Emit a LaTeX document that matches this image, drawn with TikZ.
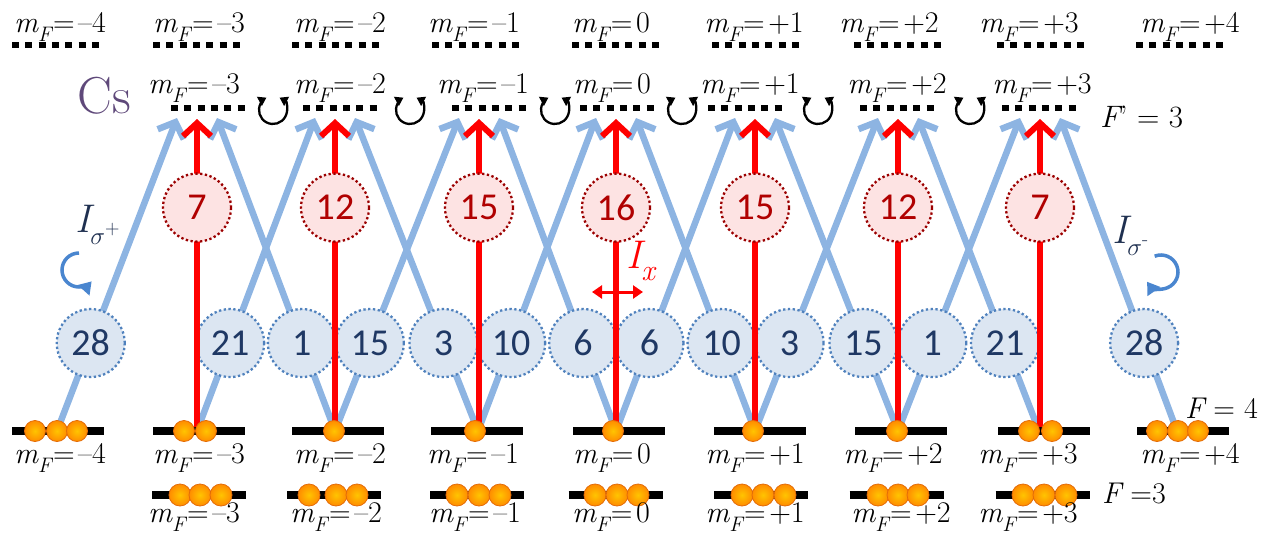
\documentclass[tikz,border=0pt]{standalone}
\usepackage{fontspec}
\newfontfamily\calib{Carlito}
\usetikzlibrary{arrows.meta}
\definecolor{bline}{HTML}{8DB4E2}
\definecolor{bfill}{HTML}{DCE6F2}
\definecolor{bdraw}{HTML}{4F81BD}
\definecolor{btext}{HTML}{1F3864}
\definecolor{rfill}{HTML}{FDE3E3}
\definecolor{rdraw}{HTML}{9B0000}
\definecolor{rtext}{HTML}{B00000}
\definecolor{csc}{HTML}{5F497A}
\definecolor{ballin}{HTML}{FFC400}
\definecolor{ballout}{HTML}{FF8C00}
\definecolor{balle}{HTML}{E36C09}
\definecolor{arcb}{HTML}{4A86CF}
\definecolor{ilab}{HTML}{1F3050}
\newcommand{\mlab}[1]{{\itshape m}\raisebox{-0.3em}{\fontsize{21}{21}\selectfont\itshape F}\hspace{0.05em}=\hspace{0.12em}#1}
\begin{document}
\begin{tikzpicture}[x=1pt,y=-1pt,
  lbl/.style={font=\fontsize{30}{30}\selectfont, inner sep=0pt, anchor=base},
  blueline/.style={draw=bline, line width=6.5pt, -{Straight Barb[length=13pt,width=28pt]}},
  redline/.style={draw=red, line width=6pt, -{Straight Barb[length=13pt,width=28pt]}},
  bcirc/.style={circle, minimum size=68pt, inner sep=0pt, fill=bfill, draw=bdraw, line width=2.3pt, dash pattern=on 2.3pt off 2.5pt, text=btext, font=\calib\fontsize{38}{38}\selectfont},
  rcirc/.style={circle, minimum size=68pt, inner sep=0pt, fill=rfill, draw=rdraw, line width=2.3pt, dash pattern=on 2.3pt off 2.5pt, text=rtext, font=\calib\fontsize{38}{38}\selectfont},
  glevel/.style={line width=7.5pt, black},
  xlevel/.style={line width=6.5pt, black, dash pattern=on 7pt off 6.3pt},
  ball/.style={circle, minimum size=21pt, inner sep=0pt, draw=balle, line width=0.8pt, inner color=ballin, outer color=ballout},
  cyc/.style={line width=2.3pt, black, {Triangle[length=8pt,width=10pt]}-{Triangle[length=8pt,width=10pt]}},
  curl/.style={line width=3.5pt, arcb, -{Triangle[length=12pt,width=15pt]}},
  biglbl/.style={font=\fontsize{40}{40}\selectfont, inner sep=0pt, anchor=base}
]
\useasboundingbox (0,0) rectangle (1267,533);
% coordinates
\foreach \m/\x in {-4/57,-3/197,-2/335,-1/478,0/616,1/755,2/898,3/1039,4/1177}
  \coordinate (g\m) at (\x,431);
\foreach \m/\x in {-3/197,-2/335,-1/479,0/616,1/755,2/898,3/1040}{
  \coordinate (e\m) at (\x,119);
  \coordinate (el\m) at (\x-20,118);
  \coordinate (er\m) at (\x+20,118);
}
% top F'=4 dotted levels and labels
\foreach \x in {57,198,337,477,617,757,899,1042,1181}
  \draw[xlevel] (\x-45,45) -- (\x+45,45);
\foreach \x/\t [count=\i] in {60/\textendash4,199/\textendash3,340/\textendash2,474/\textendash1,611/0,754/+1,889/+2,1029/+3,1190/+4}
  \node[lbl] (top\i) at (\x,32) {\mlab{\t}};
% F'=3 levels
\foreach \x in {208,340,489,617,745,897,1039}
  \draw[xlevel] (\x-37,108) -- (\x+37,108);
\foreach \x/\t [count=\i] in {194/\textendash3,340/\textendash2,483/\textendash1,612/0,750/+1,897/+2,1042/+3}
  \node[lbl] (ex\i) at (\x,93) {\mlab{\t}};
% cyclic arrows
\foreach \x in {273,410,555,682,818,970}
  \draw[cyc] (\x,110) ++(-62:14) arc[start angle=-62, end angle=242, radius=14];
% blue transitions
\foreach \m/\n in {-4/-3,-3/-2,-2/-1,-1/0,0/1,1/2,2/3}
  \draw[blueline] (g\m) -- coordinate[pos=.281] (sp\m) (el\n);
\foreach \m/\n in {-2/-3,-1/-2,0/-1,1/0,2/1,3/2,4/3}
  \draw[blueline] (g\m) -- coordinate[pos=.281] (sm\m) (er\n);
\foreach \m/\v in {-4/28,-3/21,-2/15,-1/10,0/6,1/3,2/1}
  \node[bcirc] (cp\m) at (sp\m) {\v};
\foreach \m/\v in {-2/1,-1/3,0/6,1/10,2/15,3/21,4/28}
  \node[bcirc] (cm\m) at (sm\m) {\v};
% red transitions
\foreach \m/\v in {-3/7,-2/12,-1/15,0/16,1/15,2/12,3/7}
  \draw[redline] (e\m |- g\m) -- node[rcirc, pos=.716] (rc\m) {\v} (e\m);
% ground F=4
\foreach \x in {58,199,338,477,619,760,901,1044,1183}
  \draw[glevel] (\x-46,431) -- (\x+46,431);
\foreach \x in {35,57,77,184,206,334,475,613,753,897,1029,1052,1157,1178,1198}
  \node[ball] at (\x,431) {};
\foreach \x/\t [count=\i] in {60/\textendash4,199/\textendash3,340/\textendash2,473/\textendash1,612/0,755/+1,893/+2,1028/+3,1190/+4}
  \node[lbl] (gl\i) at (\x,463) {\mlab{\t}};
% ground F=3
\foreach \x in {199,334,477,615.5,761,896.5,1042.5}
  \draw[glevel] (\x-47,495) -- (\x+47,495);
\foreach \x in {180,200,221,309,336,357,457,479,500,595,617,638,742,763,785,878,898,918,1023,1044,1066}
  \node[ball, minimum size=22pt] at (\x,495) {};
\foreach \x/\t [count=\i] in {194/\textendash3,336/\textendash2,475/\textendash1,611/0,755/+1,901/+2,1028/+3}
  \node[lbl] (fl\i) at (\x,522) {\mlab{\t}};
% labels
\node[font=\fontsize{52}{52}\selectfont, text=csc, inner sep=0pt, anchor=base] (cs) at (104,113) {Cs};
\node[font=\fontsize{31}{31}\selectfont, inner sep=0pt, anchor=base west] (fp3) at (1100,127) {{\itshape F}’ = 3};
\node[font=\fontsize{30}{30}\selectfont, inner sep=0pt, anchor=base west] (f4) at (1185,418) {{\itshape F} = 4};
\node[font=\fontsize{30}{30}\selectfont, inner sep=0pt, anchor=base west] (f3) at (1102,503) {{\itshape F} =3};
% polarisation labels
\node[biglbl, text=ilab, anchor=base west] (isp) at (75,232) {{\itshape I}\raisebox{-0.3em}{\fontsize{27}{27}\selectfont$\sigma$\raisebox{0.35em}{\fontsize{20}{20}\selectfont +}}};
\node[biglbl, text=ilab, anchor=base west] (ism) at (1112,243) {{\itshape I}\raisebox{-0.3em}{\fontsize{27}{27}\selectfont$\sigma$\raisebox{0.35em}{\fontsize{20}{20}\selectfont -}}};
\node[biglbl, text=red, anchor=base west] (ix) at (626,268) {{\itshape I}\raisebox{-0.3em}{\fontsize{30}{30}\selectfont\itshape x}};
\coordinate (ixa) at (592,292);
\coordinate (ixb) at (643,292);
\draw[red, line width=3pt, {Triangle[length=10pt,width=13pt]}-{Triangle[length=10pt,width=13pt]}] (ixa) -- (ixb);
% curly arrows
\draw[curl] (79,270) ++(-90:17) arc[start angle=-90, end angle=-318, radius=17];
\draw[curl] (1161,272) ++(-112:17) arc[start angle=-112, end angle=145, radius=17];
\end{tikzpicture}
\end{document}
